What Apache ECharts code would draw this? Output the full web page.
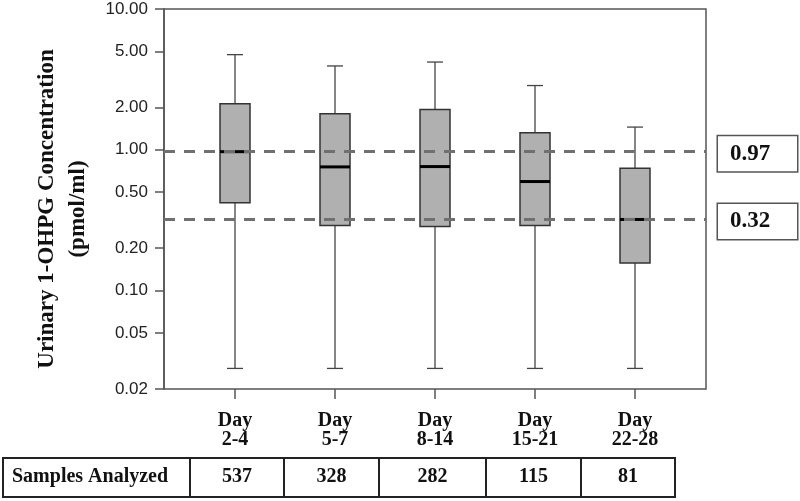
<!DOCTYPE html>
<html>
<head>
<meta charset="utf-8">
<script src="https://cdn.jsdelivr.net/npm/echarts@6/dist/echarts.min.js"></script>
<style>
html,body{margin:0;padding:0;background:#fff;}
#chart{width:800px;height:501px;}
</style>
</head>
<body>
<div id="chart"></div>
<script>
// ---- data ----
const categories = ['Day\n2-4', 'Day\n5-7', 'Day\n8-14', 'Day\n15-21', 'Day\n22-28'];
const whiskerLow  = [0.028, 0.028, 0.028, 0.028, 0.028];
const quart1      = [0.42, 0.29, 0.285, 0.29, 0.157];
const medians     = [0.97, 0.756, 0.76, 0.595, 0.32];
const quart3      = [2.12, 1.80, 1.93, 1.32, 0.74];
const whiskerHigh = [4.74, 3.94, 4.2, 2.86, 1.45];
const refLines    = [0.97, 0.32];
const yTicks      = [0.02, 0.05, 0.1, 0.2, 0.5, 1, 2, 5, 10];
const samples     = [537, 328, 282, 115, 81];
const tableTitle  = 'Samples Analyzed';
const yTitle      = 'Urinary 1-OHPG Concentration\n(pmol/ml)';

// ---- layout (not data) ----
const tableEdges = [3, 190, 284, 379, 486, 581, 675];
const tableTop = 458, tableBottom = 497;
const SERIF = '"Liberation Serif", "Times New Roman", serif';

const boxData = categories.map((c, i) => [i, whiskerLow[i], quart1[i], medians[i], quart3[i], whiskerHigh[i]]);

const chart = echarts.init(document.getElementById('chart'), null, {renderer: 'canvas'});

const graphics = [];
graphics.push({
  type: 'text', x: 63, y: 209, rotation: Math.PI / 2,
  style: {text: yTitle, fill: '#111', font: 'bold 23px ' + SERIF, textAlign: 'center', textVerticalAlign: 'middle', lineHeight: 31}
});
for (let i = 0; i < tableEdges.length - 1; i++) {
  graphics.push({
    type: 'rect',
    shape: {x: tableEdges[i], y: tableTop, width: tableEdges[i + 1] - tableEdges[i], height: tableBottom - tableTop},
    style: {fill: 'none', stroke: '#222', lineWidth: 2}
  });
}
graphics.push({
  type: 'text', x: tableEdges[0] + 9, y: (tableTop + tableBottom) / 2 - 1,
  style: {text: tableTitle, fill: '#111', font: 'bold 20px ' + SERIF, textAlign: 'left', textVerticalAlign: 'middle'}
});
samples.forEach((s, i) => {
  graphics.push({
    type: 'text', x: (tableEdges[i + 1] + tableEdges[i + 2]) / 2, y: (tableTop + tableBottom) / 2 - 1,
    style: {text: String(s), fill: '#111', font: 'bold 20px ' + SERIF, textAlign: 'center', textVerticalAlign: 'middle'}
  });
});

const option = {
  backgroundColor: '#fff',
  animation: false,
  grid: [
    {left: 164, right: 94, top: 9, bottom: 112, show: true, borderColor: '#555', borderWidth: 1.5, backgroundColor: 'transparent'},
    {left: 185, right: 115, top: 9, bottom: 112}
  ],
  xAxis: [
    {gridIndex: 0, type: 'value', min: 0, max: 1, show: false},
    {
      gridIndex: 1, type: 'category', data: categories, boundaryGap: true,
      axisLine: {show: false},
      axisTick: {show: true, alignWithLabel: true, length: 10, lineStyle: {color: '#555', width: 1.5}},
      axisLabel: {fontFamily: SERIF, fontWeight: 'bold', fontSize: 20, color: '#111', lineHeight: 19, margin: 22, interval: 0},
      splitLine: {show: false}
    }
  ],
  yAxis: [
    {
      gridIndex: 0, type: 'log', logBase: 10, min: 0.02, max: 10,
      axisLine: {show: true, lineStyle: {color: '#555', width: 1.5}},
      axisTick: {show: true, length: 9, customValues: yTicks, lineStyle: {color: '#555', width: 1.5}},
      axisLabel: {customValues: yTicks, margin: 16, fontFamily: '"Liberation Sans", Arial, sans-serif', fontSize: 17, color: '#222',
        formatter: v => Number(v).toFixed(2)},
      splitLine: {show: false}, minorTick: {show: false}
    },
    {gridIndex: 1, type: 'log', logBase: 10, min: 0.02, max: 10, show: false, splitLine: {show: false}}
  ],
  series: [
    {
      type: 'custom', xAxisIndex: 1, yAxisIndex: 1, z: 2,
      data: boxData,
      encode: {x: 0, y: [1, 2, 3, 4, 5]},
      renderItem: function (params, api) {
        const idx = api.value(0);
        const pLo = api.coord([idx, api.value(1)]);
        const pQ1 = api.coord([idx, api.value(2)]);
        const pMed = api.coord([idx, api.value(3)]);
        const pQ3 = api.coord([idx, api.value(4)]);
        const pHi = api.coord([idx, api.value(5)]);
        const x = pMed[0];
        const bw = 30, cw = 16;
        const wStyle = {stroke: '#444', lineWidth: 1.3};
        return {
          type: 'group',
          children: [
            {type: 'line', shape: {x1: x, y1: pQ3[1], x2: x, y2: pHi[1]}, style: wStyle},
            {type: 'line', shape: {x1: x, y1: pQ1[1], x2: x, y2: pLo[1]}, style: wStyle},
            {type: 'line', shape: {x1: x - cw / 2, y1: pHi[1], x2: x + cw / 2, y2: pHi[1]}, style: wStyle},
            {type: 'line', shape: {x1: x - cw / 2, y1: pLo[1], x2: x + cw / 2, y2: pLo[1]}, style: wStyle},
            {type: 'rect', shape: {x: x - bw / 2, y: pQ3[1], width: bw, height: pQ1[1] - pQ3[1]},
              style: {fill: '#b0b0b0', stroke: '#333', lineWidth: 1.5}},
            {type: 'line', shape: {x1: x - bw / 2, y1: pMed[1], x2: x + bw / 2, y2: pMed[1]},
              style: {stroke: '#000', lineWidth: 3}}
          ]
        };
      }
    },
    {
      type: 'line', xAxisIndex: 0, yAxisIndex: 0, z: 5, data: [], silent: true,
      markLine: {
        silent: true, symbol: 'none', animation: false,
        lineStyle: {color: '#707070', width: 3, type: [11, 9]},
        label: {
          show: true, position: 'end', distance: 12, formatter: '{c}',
          fontFamily: SERIF, fontWeight: 'bold', fontSize: 23, color: '#111',
          backgroundColor: '#fff', borderColor: '#555', borderWidth: 1.5,
          padding: [6, 14, 5, 12], width: 53, lineHeight: 24, align: 'left', offset: [0, 2]
        },
        data: refLines.map(v => ({yAxis: v}))
      }
    }
  ],
  graphic: graphics
};
chart.setOption(option);
</script>
</body>
</html>
